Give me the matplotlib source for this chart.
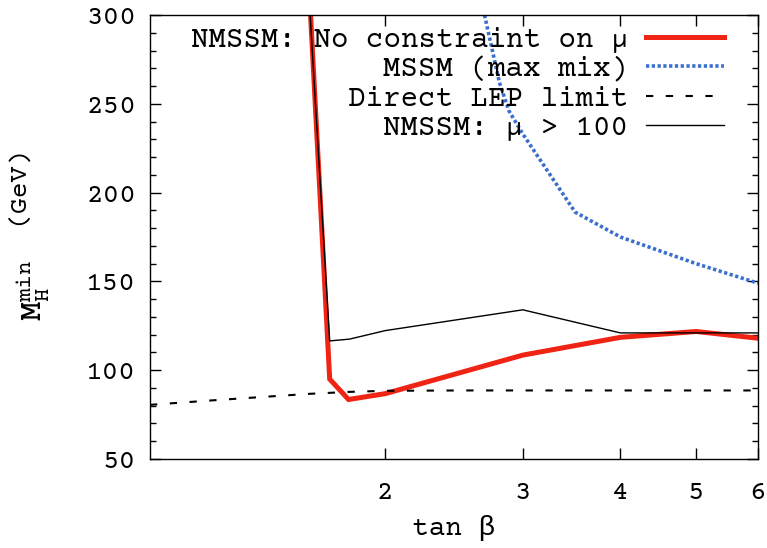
import matplotlib
matplotlib.use('Agg')
import matplotlib.pyplot as plt
from matplotlib.ticker import FixedLocator, NullLocator, MultipleLocator

# data
# NMSSM, no constraint on mu
tb_nmssm = [1.605, 1.698, 1.795, 2.0, 3.0, 4.0, 5.0, 6.0]
mh_nmssm = [300, 95, 83.5, 86.8, 108.5, 118.5, 121.8, 118.0]

# MSSM max mixing
tb_mssm = [2.68, 2.8, 2.88, 3.0, 3.5, 4.0, 5.0, 6.0]
mh_mssm = [300, 262, 246, 233, 189, 175, 160, 149]

# direct LEP limit
tb_lep = [1.0, 1.2, 1.4, 1.6, 1.8, 2.0, 2.5, 6.0]
mh_lep = [80.5, 83.0, 85.0, 86.7, 87.8, 88.4, 88.6, 88.6]

# NMSSM, mu > 100
tb_mu100 = [1.603, 1.698, 1.8, 2.0, 3.0, 4.0, 5.0, 6.0]
mh_mu100 = [300, 116.5, 117.5, 122.3, 134.0, 121.0, 121.0, 121.0]

xticks = [2, 3, 4, 5, 6]
yticks = [50, 100, 150, 200, 250, 300]

mono = ['Courier Prime', 'Cutive Mono', 'Liberation Mono', 'DejaVu Sans']
plt.rcParams['font.family'] = mono
plt.rcParams['mathtext.fontset'] = 'custom'
plt.rcParams['mathtext.rm'] = mono[0]
plt.rcParams['mathtext.it'] = mono[0]
plt.rcParams['mathtext.tt'] = mono[0]

fig = plt.figure(figsize=(7.67, 5.48), dpi=100)
ax = fig.add_axes([0.1956, 0.1624, 0.7927, 0.8102])

ax.plot(tb_nmssm, mh_nmssm, color='#f02414', lw=3.6, solid_joinstyle='miter',
        label='NMSSM: No constraint on \u03bc')
ax.plot(tb_mssm, mh_mssm, color='#3a6fd0', lw=2.6, linestyle=(0, (0.9, 0.7)),
        label='MSSM (max mix)')
ax.plot(tb_lep, mh_lep, color='black', lw=1.5, dashes=(3.5, 6),
        label='Direct LEP limit')
ax.plot(tb_mu100, mh_mu100, color='black', lw=1.0,
        label='NMSSM: \u03bc > 100')

ax.set_xscale('log')
ax.set_xlim(1.0, 6.0)
ax.set_ylim(50, 300)
ax.xaxis.set_major_locator(FixedLocator(xticks))
ax.xaxis.set_minor_locator(NullLocator())
ax.set_xticklabels([str(t) for t in xticks])
ax.set_yticks(yticks)
ax.yaxis.set_minor_locator(MultipleLocator(10))

ax.tick_params(axis='both', which='major', direction='in', length=8, width=1,
               top=True, right=True, labelsize=20)
ax.tick_params(axis='both', which='minor', direction='in', length=4, width=1,
               top=True, right=True)
ax.tick_params(axis='x', pad=16)
ax.tick_params(axis='y', pad=10)
for s in ax.spines.values():
    s.set_linewidth(1.0)

ax.set_xlabel('tan \u03b2', fontsize=20, labelpad=8)
# y label in two pieces: big M_H^min and the unit
ax.set_ylabel('(GeV)', fontsize=19)
ax.yaxis.set_label_coords(-0.2, 0.617)
ax.text(-0.192, 0.38, r'$\mathregular{M_H^{min}}$', rotation=90, fontsize=23,
        ha='center', va='center', transform=ax.transAxes)

leg = ax.legend(loc='upper right', bbox_to_anchor=(0.964, 1.0), frameon=False,
                markerfirst=False, fontsize=21, handlelength=2.7,
                handletextpad=0.6, labelspacing=0.1, borderaxespad=0)

fig.savefig('out.png', dpi=100)
